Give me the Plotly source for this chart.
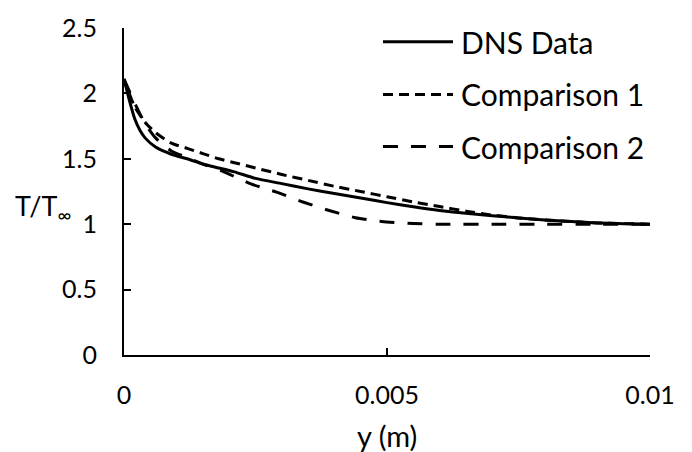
import plotly.graph_objects as go

# ---- data ----
x_dns = [0, 0.0001, 0.0002, 0.0003, 0.0004, 0.0006, 0.0009, 0.0012, 0.0015, 0.0018,
         0.0021, 0.0025, 0.003, 0.0035, 0.004, 0.0045, 0.005, 0.0055, 0.006, 0.0065,
         0.007, 0.0075, 0.008, 0.0085, 0.009, 0.0095, 0.01]
t_dns = [2.11, 1.95, 1.81, 1.72, 1.66, 1.59, 1.535, 1.50, 1.46, 1.43,
         1.40, 1.35, 1.31, 1.27, 1.235, 1.20, 1.165, 1.133, 1.105, 1.083,
         1.065, 1.048, 1.033, 1.02, 1.01, 1.004, 1.0]

x_c1 = [0, 0.0002, 0.0004, 0.0006, 0.0009, 0.0012, 0.0015, 0.0018, 0.0021, 0.0025,
        0.003, 0.0035, 0.004, 0.0045, 0.005, 0.0055, 0.006, 0.0065, 0.007, 0.0075,
        0.008, 0.009, 0.01]
t_c1 = [2.11, 1.90, 1.78, 1.70, 1.62, 1.58, 1.54, 1.50, 1.47, 1.43,
        1.38, 1.335, 1.29, 1.25, 1.21, 1.17, 1.135, 1.10, 1.07, 1.048,
        1.032, 1.01, 1.0]

x_c2 = [0, 0.0001, 0.0002, 0.0004, 0.0006, 0.0009, 0.0012, 0.0015, 0.0019, 0.0024,
        0.0029, 0.0034, 0.0039, 0.0044, 0.0049, 0.0055, 0.006, 0.007, 0.008, 0.009, 0.01]
t_c2 = [2.11, 2.02, 1.93, 1.77, 1.66, 1.56, 1.51, 1.46, 1.40, 1.31,
        1.245, 1.17, 1.105, 1.05, 1.02, 1.005, 1.0, 1.0, 1.0, 1.0, 1.0]

series_names = ["DNS Data", "Comparison 1", "Comparison 2"]
x_ticks = [0, 0.005, 0.01]
x_tick_text = ["0", "0.005", "0.01"]
y_ticks = [0, 0.5, 1, 1.5, 2, 2.5]
y_tick_text = ["0", "0.5", "1", "1.5", "2", "2.5"]

FONT = "Lato"
dashes = ["solid", "10px,6px", "15px,13px"]

fig = go.Figure()
for xs, ys, name, d in zip([x_dns, x_c1, x_c2], [t_dns, t_c1, t_c2], series_names, dashes):
    fig.add_trace(go.Scatter(x=xs, y=ys, mode="lines", name=name,
                             line=dict(color="black", width=3, dash=d,
                                       shape="spline", smoothing=0.6),
                             showlegend=False))

# manual legend (lines + labels) in paper coordinates
W, H = 526.0, 335.0
def px(x):
    return (x - 124) / W
def py(y):
    return (355 - y) / H

legend_rows = [34, 88, 141.5]
for name, d, yy in zip(series_names, dashes, legend_rows):
    fig.add_shape(type="line", xref="paper", yref="paper",
                  x0=px(383), x1=px(453), y0=py(yy), y1=py(yy),
                  line=dict(color="black", width=3, dash=d))
    fig.add_annotation(xref="paper", yref="paper", x=px(459), y=py(yy),
                       text=name, showarrow=False, xanchor="left", yanchor="middle",
                       font=dict(family=FONT, size=30, color="black"))

# y-axis label (horizontal)
fig.add_annotation(xref="paper", yref="paper", x=px(13), y=py(204),
                   text="T/T<sub>∞</sub>", showarrow=False, xanchor="left", yanchor="middle",
                   font=dict(family=FONT, size=27, color="black"))
# x-axis title
fig.add_annotation(xref="paper", yref="paper", x=0.5, y=py(437),
                   text="y (m)", showarrow=False, xanchor="center", yanchor="middle",
                   font=dict(family=FONT, size=29, color="black"))

fig.update_xaxes(range=[0, 0.01], tickvals=x_ticks, ticktext=x_tick_text,
                 showgrid=False, zeroline=False, showline=True, linecolor="black", linewidth=2,
                 ticks="inside", ticklen=7, tickwidth=2, tickcolor="black",
                 ticklabelstandoff=17,
                 tickfont=dict(family=FONT, size=25, color="black"))
fig.update_yaxes(range=[0, 2.5], tickvals=y_ticks, ticktext=y_tick_text,
                 showgrid=False, zeroline=False, showline=True, linecolor="black", linewidth=2,
                 ticks="inside", ticklen=7, tickwidth=2, tickcolor="black",
                 ticklabelstandoff=20,
                 tickfont=dict(family=FONT, size=25, color="black"))

fig.update_layout(width=692, height=452,
                  margin=dict(l=124, r=42, t=20, b=97),
                  paper_bgcolor="white", plot_bgcolor="white",
                  showlegend=False,
                  font=dict(family=FONT, color="black"))

fig.write_html("out.html")
